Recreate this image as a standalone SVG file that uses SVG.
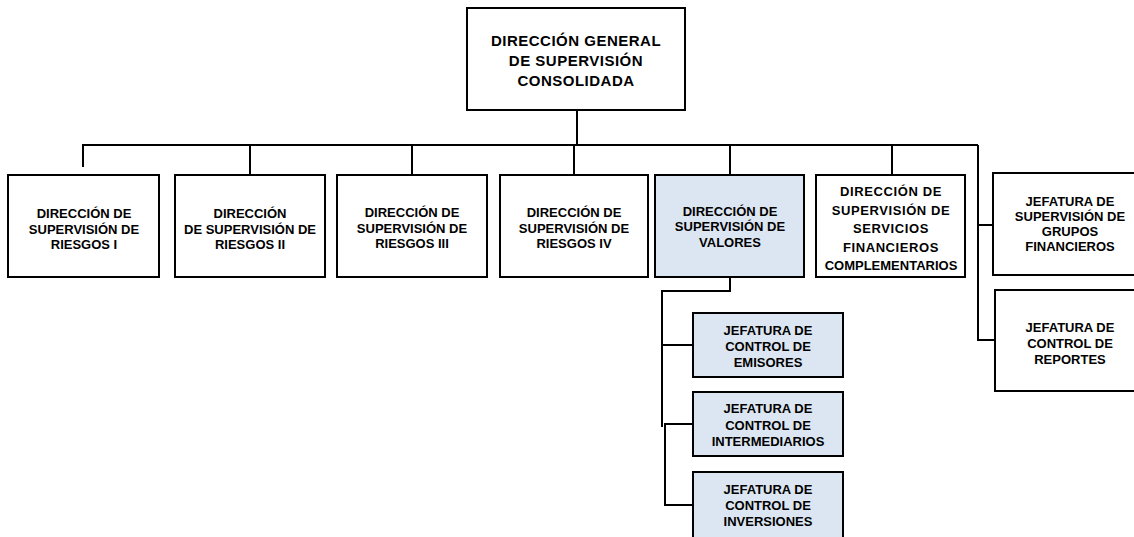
<svg xmlns="http://www.w3.org/2000/svg" width="1134" height="537" viewBox="0 0 1134 537">
<style>
.box{fill:#ffffff;stroke:#000000;stroke-width:2}
.blue{fill:#dce6f2}
.t{font-family:"Liberation Sans",Arial,sans-serif;font-weight:bold;font-size:13px;fill:#000000;text-anchor:middle}
.big{font-size:15px;letter-spacing:0.5px}
.sp{letter-spacing:0.6px}
.ln{fill:none;stroke:#000000;stroke-width:2}
</style>
<rect width="1134" height="537" fill="#ffffff"/>
<g id="connectors">
<path class="ln" d="M577,110 V145"/>
<path class="ln" d="M83,167 V145 H978"/>
<path class="ln" d="M250,145 V175 M412,145 V175 M574,145 V175 M730,145 V175 M892,145 V175"/>
<path class="ln" d="M978,145 V340 H995 M978,225 H993"/>
<path class="ln" d="M730,277 V291 H662 V427 M662,345 H693"/>
<path class="ln" d="M693,424 H665 V505 H693"/>
</g>
<g id="n-general">
<rect class="box" x="467" y="8" width="218" height="102"/>
<text class="t big" x="576" y="45.5">DIRECCIÓN GENERAL</text>
<text class="t big" x="576" y="66">DE SUPERVISIÓN</text>
<text class="t big" x="576" y="85.5">CONSOLIDADA</text>
</g>
<g id="n-riesgos1">
<rect class="box" x="8" y="175" width="151" height="102"/>
<text class="t" x="84" y="218">DIRECCIÓN DE</text>
<text class="t" x="84" y="233.5">SUPERVISIÓN DE</text>
<text class="t" x="84" y="248.5">RIESGOS  I</text>
</g>
<g id="n-riesgos2">
<rect class="box" x="175" y="175" width="150" height="102"/>
<text class="t" x="250" y="218">DIRECCIÓN</text>
<text class="t" x="250" y="233.5">DE SUPERVISIÓN DE</text>
<text class="t" x="250" y="248.5">RIESGOS  II</text>
</g>
<g id="n-riesgos3">
<rect class="box" x="337" y="175" width="150" height="102"/>
<text class="t" x="412" y="217">DIRECCIÓN  DE</text>
<text class="t" x="412" y="232.5">SUPERVISIÓN DE</text>
<text class="t" x="412" y="248">RIESGOS III</text>
</g>
<g id="n-riesgos4">
<rect class="box" x="500" y="175" width="148" height="102"/>
<text class="t" x="574" y="217">DIRECCIÓN  DE</text>
<text class="t" x="574" y="232.5">SUPERVISIÓN DE</text>
<text class="t" x="574" y="248">RIESGOS IV</text>
</g>
<g id="n-valores">
<rect class="box blue" x="655" y="175" width="149" height="102"/>
<text class="t" x="730" y="215.5">DIRECCIÓN  DE</text>
<text class="t" x="730" y="231">SUPERVISIÓN DE</text>
<text class="t" x="730" y="246.5">VALORES</text>
</g>
<g id="n-servicios">
<rect class="box" x="816" y="175" width="149" height="102"/>
<text class="t sp" x="891" y="196">DIRECCIÓN DE</text>
<text class="t sp" x="891" y="214.5">SUPERVISIÓN DE</text>
<text class="t sp" x="891" y="233">SERVICIOS</text>
<text class="t sp" x="891" y="251.5">FINANCIEROS</text>
<text class="t" x="891" y="270">COMPLEMENTARIOS</text>
</g>
<g id="n-grupos">
<rect class="box" x="993" y="173" width="154" height="102"/>
<text class="t" x="1070" y="206">JEFATURA DE</text>
<text class="t" x="1070" y="221">SUPERVISIÓN DE</text>
<text class="t" x="1070" y="236">GRUPOS</text>
<text class="t" x="1070" y="251">FINANCIEROS</text>
</g>
<g id="n-reportes">
<rect class="box" x="995" y="290" width="152" height="101"/>
<text class="t" x="1070" y="332">JEFATURA DE</text>
<text class="t" x="1070" y="347.5">CONTROL DE</text>
<text class="t" x="1070" y="364">REPORTES</text>
</g>
<g id="n-emisores">
<rect class="box blue" x="693" y="313" width="150" height="64"/>
<text class="t" x="768" y="335">JEFATURA DE</text>
<text class="t" x="768" y="350.5">CONTROL DE</text>
<text class="t" x="768" y="366.5">EMISORES</text>
</g>
<g id="n-intermediarios">
<rect class="box blue" x="693" y="392" width="150" height="64"/>
<text class="t" x="768" y="413">JEFATURA DE</text>
<text class="t" x="768" y="429.5">CONTROL DE</text>
<text class="t" x="768" y="445.5">INTERMEDIARIOS</text>
</g>
<g id="n-inversiones">
<rect class="box blue" x="693" y="472" width="150" height="70"/>
<text class="t" x="768" y="494">JEFATURA DE</text>
<text class="t" x="768" y="510">CONTROL DE</text>
<text class="t" x="768" y="526">INVERSIONES</text>
</g>
</svg>
